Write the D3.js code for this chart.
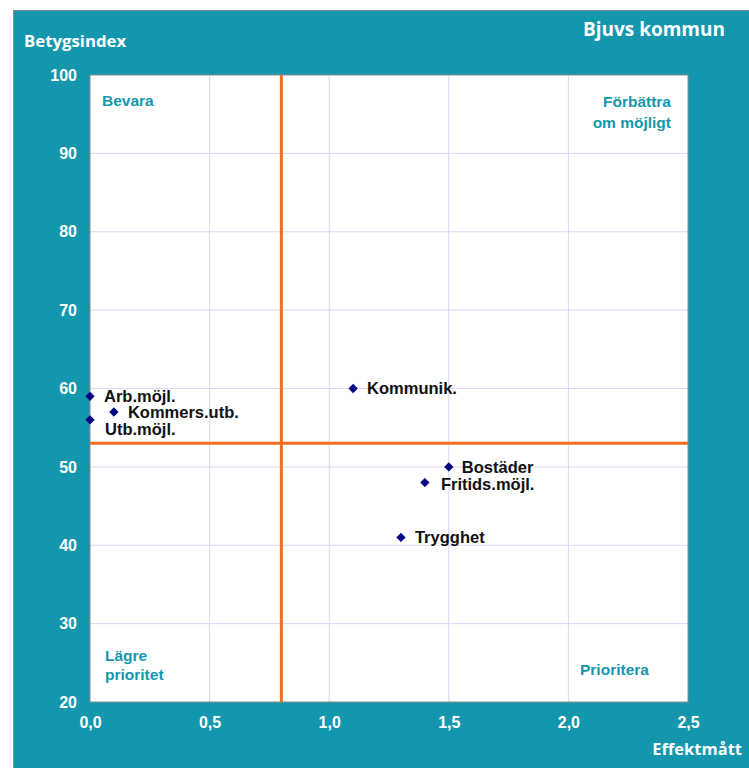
<!DOCTYPE html>
<html>
<head>
<meta charset="utf-8">
<script src="https://cdn.jsdelivr.net/npm/d3@7"></script>
<style>
  body { margin: 0; background: #fff; }
  svg { display: block; }
</style>
</head>
<body>
<div id="chart"></div>
<script>
// data
const names = ['Arb.möjl.', 'Kommers.utb.', 'Utb.möjl.', 'Kommunik.', 'Bostäder', 'Fritids.möjl.', 'Trygghet'];
const effekt = [0.0, 0.1, 0.0, 1.1, 1.5, 1.4, 1.3];
const betyg = [59, 57, 56, 60, 50, 48, 41];
const xTicks = [0, 0.5, 1.0, 1.5, 2.0, 2.5];
const yTicks = [20, 30, 40, 50, 60, 70, 80, 90, 100];
const xCut = 0.8, yCut = 53;

const W = 749, H = 768;
const teal = '#1497ad';
const margin = { top: 75, right: 61, bottom: 66, left: 90 },
      width = W - margin.left - margin.right,
      height = H - margin.top - margin.bottom;

const svg = d3.select('#chart').append('svg')
  .attr('width', W).attr('height', H);

// teal panel
svg.append('rect')
  .attr('x', 13.5).attr('y', 10.5)
  .attr('width', W).attr('height', H)
  .attr('fill', teal).attr('stroke', '#8a8a8a').attr('stroke-width', 1);

const g = svg.append('g')
  .attr('transform', 'translate(' + margin.left + ',' + margin.top + ')');

const x = d3.scaleLinear().domain([0, 2.5]).range([0, width]);
const y = d3.scaleLinear().domain([20, 100]).range([height, 0]);

g.append('rect')
  .attr('width', width).attr('height', height)
  .attr('fill', '#fff');

// grid
g.append('g')
  .selectAll('line').data(xTicks.slice(1, -1)).join('line')
    .attr('x1', d => x(d)).attr('x2', d => x(d))
    .attr('y1', 0).attr('y2', height)
    .attr('stroke', '#d8d8f2').attr('stroke-width', 1);
g.append('g')
  .selectAll('line').data(yTicks.slice(1, -1)).join('line')
    .attr('y1', d => y(d)).attr('y2', d => y(d))
    .attr('x1', 0).attr('x2', width)
    .attr('stroke', '#d8d8f2').attr('stroke-width', 1);

g.append('rect')
  .attr('width', width).attr('height', height)
  .attr('fill', 'none').attr('stroke', '#8a8a8a').attr('stroke-width', 1);

// axes (labels only, white)
const fmt = d => d.toFixed(1).replace('.', ',');
const xAxis = g.append('g')
  .attr('transform', 'translate(0,' + height + ')')
  .call(d3.axisBottom(x).tickValues(xTicks).tickFormat(fmt).tickSize(0).tickPadding(15));
const yAxis = g.append('g')
  .call(d3.axisLeft(y).tickValues(yTicks).tickSize(0).tickPadding(13));
[xAxis, yAxis].forEach(a => {
  a.select('.domain').remove();
  a.selectAll('text')
    .attr('fill', '#fff')
    .style('font-family', '"Liberation Sans", Arial, sans-serif')
    .style('font-weight', 'bold')
    .style('font-size', '16px');
});

// quadrant cut lines
g.append('line')
  .attr('x1', x(xCut)).attr('x2', x(xCut)).attr('y1', 0).attr('y2', height)
  .attr('stroke', '#f26f1f').attr('stroke-width', 3);
g.append('line')
  .attr('x1', 0).attr('x2', width).attr('y1', y(yCut)).attr('y2', y(yCut))
  .attr('stroke', '#f26f1f').attr('stroke-width', 3);

// quadrant labels
const qStyle = sel => sel
  .attr('fill', teal)
  .style('font-family', '"Liberation Sans", Arial, sans-serif')
  .style('font-weight', 'bold')
  .style('font-size', '15.5px');
g.append('text').attr('x', 12).attr('y', 31).text('Bevara').call(qStyle);
g.append('text').attr('x', width - 17).attr('y', 32).attr('text-anchor', 'end').text('Förbättra').call(qStyle);
g.append('text').attr('x', width - 17).attr('y', 53).attr('text-anchor', 'end').text('om möjligt').call(qStyle);
g.append('text').attr('x', 15).attr('y', height - 41).text('Lägre').call(qStyle);
g.append('text').attr('x', 15).attr('y', height - 22).text('prioritet').call(qStyle);
g.append('text').attr('x', width - 108).attr('y', height - 27).text('Prioritera').call(qStyle);

// points
const pts = names.map((n, i) => ({ name: n, ex: effekt[i], by: betyg[i] }));
const diamond = d3.symbol().type(d3.symbolDiamond2).size(55);
g.append('g')
  .selectAll('path').data(pts).join('path')
    .attr('d', diamond)
    .attr('transform', d => 'translate(' + x(d.ex) + ',' + y(d.by) + ')')
    .attr('fill', '#000080');

// label nudges (dx, dy) where labels sit off the default spot
const nudge = { 'Utb.möjl.': [15, 9], 'Fritids.möjl.': [16, 2], 'Bostäder': [13, 0] };
g.append('g')
  .selectAll('text').data(pts).join('text')
    .attr('x', d => x(d.ex) + (nudge[d.name] ? nudge[d.name][0] : 14))
    .attr('y', d => y(d.by) + (nudge[d.name] ? nudge[d.name][1] : 0))
    .attr('dy', '0.36em')
    .attr('fill', '#111')
    .style('font-family', '"Liberation Sans", Arial, sans-serif')
    .style('font-weight', 'bold')
    .style('font-size', '16.5px')
    .text(d => d.name);

// titles
const tStyle = sel => sel
  .attr('fill', '#fff')
  .style('font-family', '"Open Sans", sans-serif')
  .style('font-weight', 'bold');
svg.append('text').attr('x', 24).attr('y', 47).style('font-size', '16.8px').text('Betygsindex').call(tStyle);
svg.append('text').attr('x', 725).attr('y', 36).attr('text-anchor', 'end').style('font-size', '19px').text('Bjuvs kommun').call(tStyle);
svg.append('text').attr('x', 742).attr('y', 755).attr('text-anchor', 'end').style('font-size', '16.5px').text('Effektmått').call(tStyle);
</script>
</body>
</html>
